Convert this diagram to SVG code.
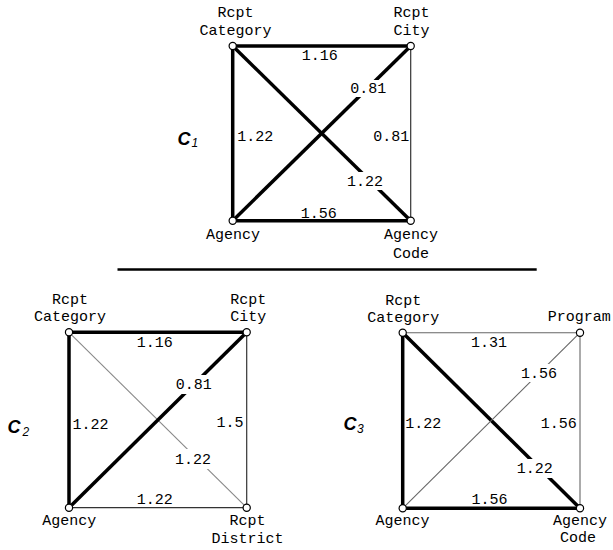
<svg xmlns="http://www.w3.org/2000/svg" width="613" height="550" viewBox="0 0 613 550">
<style>
text{font-family:"Liberation Mono","Courier New",monospace;font-size:15px;fill:#000}
.n{text-anchor:middle}
.l{text-anchor:middle}
.c{font-family:"Liberation Sans",Arial,sans-serif;font-weight:bold;font-style:italic;font-size:18px}
.s{font-family:"Liberation Sans",Arial,sans-serif;font-style:italic;font-size:12px}
.tk{stroke:#000;stroke-width:3.5;fill:none}
.tn{stroke:#333;stroke-width:1.2;fill:none}
.tg{stroke:#666;stroke-width:1.1;fill:none}
.tl{stroke:#888;stroke-width:1.1;fill:none}
.bg{fill:#fff}
circle{fill:#fff;stroke:#000;stroke-width:1.2}
</style>
<rect width="613" height="550" fill="#fff"/>
<g id="connectors">
<line class="tk" x1="232.7" y1="46" x2="410.7" y2="46"/>
<line class="tk" x1="232.7" y1="46" x2="232.7" y2="220.7"/>
<line class="tk" x1="232.7" y1="220.7" x2="410.7" y2="220.7"/>
<line class="tn" x1="410.7" y1="46" x2="410.7" y2="220.7"/>
<line class="tk" x1="232.7" y1="46" x2="410.7" y2="220.7"/>
<line class="tk" x1="410.7" y1="46" x2="232.7" y2="220.7"/>
<line class="tk" x1="69" y1="332.3" x2="246.7" y2="332.3"/>
<line class="tk" x1="69" y1="332.3" x2="69" y2="507.7"/>
<line class="tn" x1="69" y1="507.7" x2="246.7" y2="507.7"/>
<line class="tn" x1="246.7" y1="332.3" x2="246.7" y2="507.7"/>
<line class="tl" x1="69" y1="332.3" x2="246.7" y2="507.7"/>
<line class="tk" x1="246.7" y1="332.3" x2="69" y2="507.7"/>
<line class="tg" x1="402.7" y1="332.7" x2="580" y2="332.7"/>
<line class="tk" x1="402.7" y1="332.7" x2="402.7" y2="508.3"/>
<line class="tk" x1="402.7" y1="508.3" x2="580" y2="508.3"/>
<line class="tg" x1="580" y1="332.7" x2="580" y2="508.3"/>
<line class="tk" x1="402.7" y1="332.7" x2="580" y2="508.3"/>
<line class="tg" x1="580" y1="332.7" x2="402.7" y2="508.3"/>
<line x1="117.5" y1="269.5" x2="536.7" y2="269.5" stroke="#000" stroke-width="2.6"/>
</g>
<g id="edge-labels">
<rect class="bg" x="348" y="80" width="40" height="17"/>
<rect class="bg" x="345" y="172" width="41" height="18"/>
<rect class="bg" x="174" y="375" width="40" height="19"/>
<rect class="bg" x="173" y="449" width="40" height="20"/>
<rect class="bg" x="519" y="364" width="41" height="18"/>
<rect class="bg" x="514" y="459" width="42" height="19"/>
<text class="l" x="319.7" y="60.3">1.16</text>
<text class="l" x="368.3" y="93.3">0.81</text>
<text class="l" x="255.3" y="140.7">1.22</text>
<text class="l" x="391.3" y="140.7">0.81</text>
<text class="l" x="365" y="186">1.22</text>
<text class="l" x="318.7" y="218">1.56</text>
<text class="l" x="154.7" y="346.7">1.16</text>
<text class="l" x="193.7" y="389.3">0.81</text>
<text class="l" x="90.5" y="429.3">1.22</text>
<text class="l" x="230" y="426.7">1.5</text>
<text class="l" x="193" y="464.3">1.22</text>
<text class="l" x="154.7" y="504.3">1.22</text>
<text class="l" x="489" y="346.7">1.31</text>
<text class="l" x="539" y="378">1.56</text>
<text class="l" x="423.3" y="427.7">1.22</text>
<text class="l" x="558.7" y="427.7">1.56</text>
<text class="l" x="534.7" y="473">1.22</text>
<text class="l" x="489.5" y="504.3">1.56</text>
</g>
<g id="c1-label"><text class="c" x="177.5" y="144.5">C</text><text class="s" x="191.5" y="147">1</text></g>
<g id="c2-label"><text class="c" x="7.5" y="432.5">C</text><text class="s" x="22.5" y="436">2</text></g>
<g id="c3-label"><text class="c" x="343.5" y="430">C</text><text class="s" x="357" y="432.5">3</text></g>
<g id="c1-rcpt-category"><circle cx="232.7" cy="46" r="3.6"/><text class="n" x="235.5" y="17.3">Rcpt</text><text class="n" x="235.5" y="34.5">Category</text></g>
<g id="c1-rcpt-city"><circle cx="410.7" cy="46" r="3.6"/><text class="n" x="411.5" y="17.3">Rcpt</text><text class="n" x="411.5" y="34.5">City</text></g>
<g id="c1-agency"><circle cx="232.7" cy="220.7" r="3.6"/><text class="n" x="233" y="239.3">Agency</text></g>
<g id="c1-agency-code"><circle cx="410.7" cy="220.7" r="3.6"/><text class="n" x="411" y="239.3">Agency</text><text class="n" x="411" y="258">Code</text></g>
<g id="c2-rcpt-category"><circle cx="69" cy="332.3" r="3.6"/><text class="n" x="70" y="303.5">Rcpt</text><text class="n" x="70" y="321">Category</text></g>
<g id="c2-rcpt-city"><circle cx="246.7" cy="332.3" r="3.6"/><text class="n" x="248.3" y="303.5">Rcpt</text><text class="n" x="248.3" y="321">City</text></g>
<g id="c2-agency"><circle cx="69" cy="507.7" r="3.6"/><text class="n" x="69.2" y="524.5">Agency</text></g>
<g id="c2-rcpt-district"><circle cx="246.7" cy="507.7" r="3.6"/><text class="n" x="247.5" y="524.5">Rcpt</text><text class="n" x="247.5" y="543">District</text></g>
<g id="c3-rcpt-category"><circle cx="402.7" cy="332.7" r="3.6"/><text class="n" x="403.3" y="304.5">Rcpt</text><text class="n" x="403.3" y="322">Category</text></g>
<g id="c3-program"><circle cx="580" cy="332.7" r="3.6"/><text class="n" x="579.2" y="321">Program</text></g>
<g id="c3-agency"><circle cx="402.7" cy="508.3" r="3.6"/><text class="n" x="402.5" y="525">Agency</text></g>
<g id="c3-agency-code"><circle cx="580" cy="508.3" r="3.6"/><text class="n" x="580" y="525">Agency</text><text class="n" x="578" y="542">Code</text></g>
</svg>
